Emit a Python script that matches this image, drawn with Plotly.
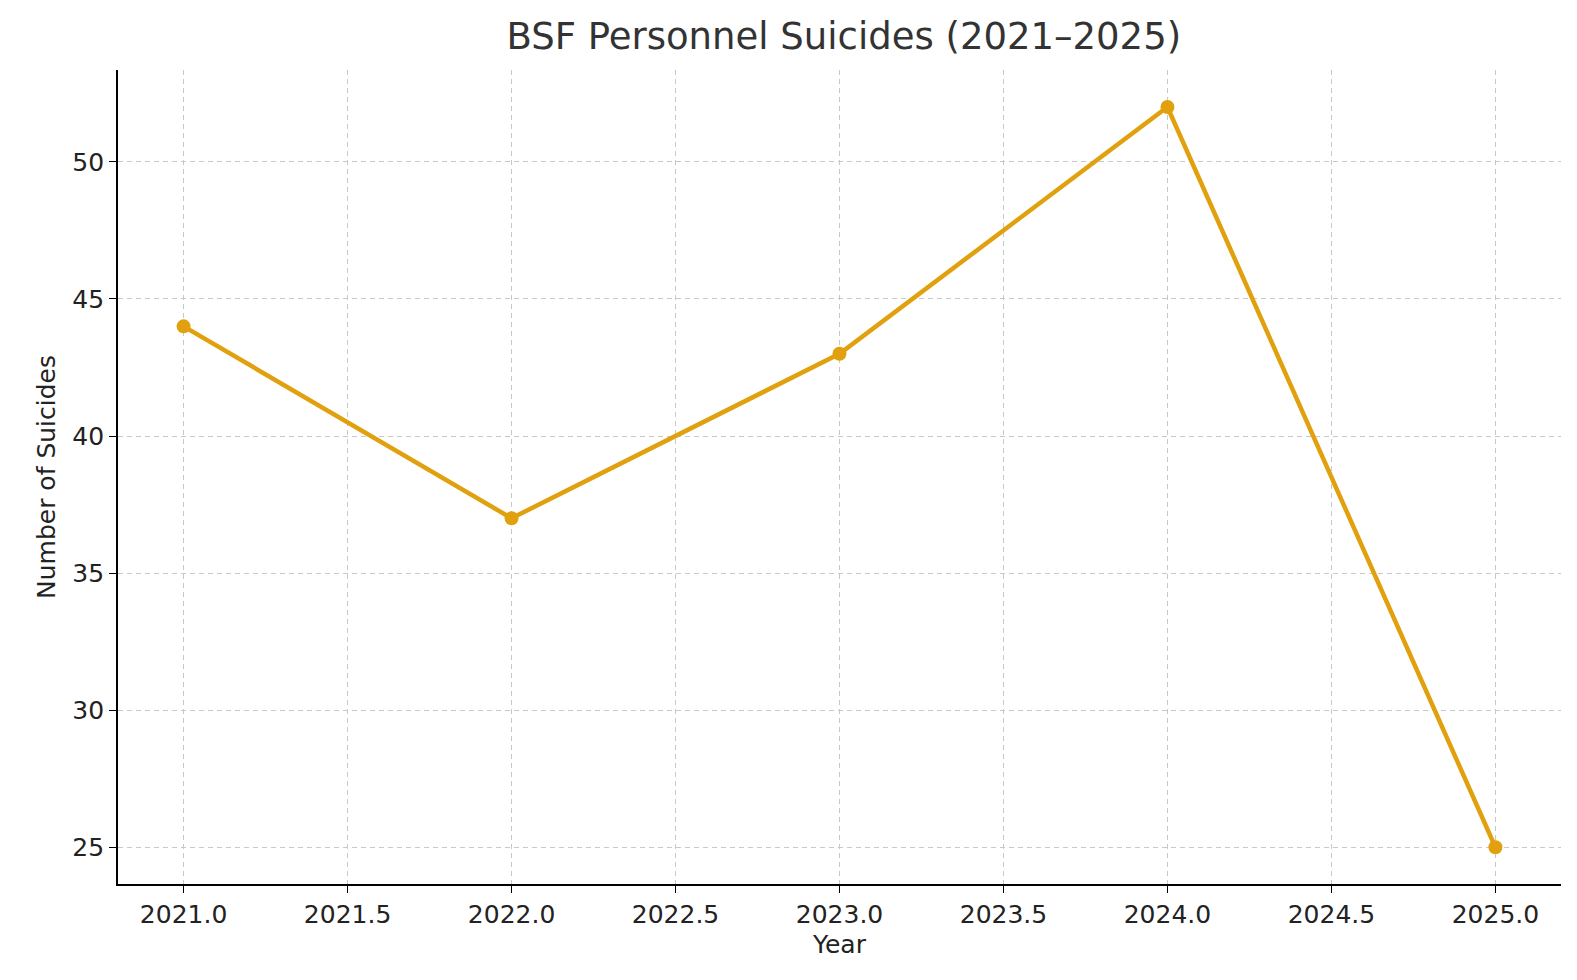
import plotly.graph_objects as go

years = [2021, 2022, 2023, 2024, 2025]
suicides = [44, 37, 43, 52, 25]

fig = go.Figure(go.Scatter(
    x=years, y=suicides, mode="lines+markers",
    line=dict(color="#E1A00E", width=4.5),
    marker=dict(color="#E1A00E", size=14),
))

axis_common = dict(
    showgrid=True, gridcolor="#c8c8c8", griddash="5px,4px", gridwidth=1,
    showline=True, linecolor="black", linewidth=1.8,
    ticks="outside", ticklen=7, tickcolor="black",
    tickfont=dict(size=25, color="#222"), zeroline=False,
)

fig.update_layout(
    width=1577, height=980,
    margin=dict(l=110, r=24, t=62, b=104),
    plot_bgcolor="white", paper_bgcolor="white",
    font=dict(family="DejaVu Sans", color="#222"),
    title=dict(text="BSF Personnel Suicides (2021–2025)", x=0.53, xanchor="center",
               y=0.985, yanchor="top", font=dict(size=37, color="#333")),
    showlegend=False,
    xaxis=dict(axis_common, range=[2020.8, 2025.2], tickvals=[2021 + 0.5 * i for i in range(9)],
               tickformat=".1f", title=dict(text="Year", font=dict(size=25), standoff=8)),
    yaxis=dict(axis_common, range=[23.66, 53.35], tickvals=[25, 30, 35, 40, 45, 50],
               title=dict(text="Number of Suicides", font=dict(size=25), standoff=10)),
)

fig.write_html("out.html")
